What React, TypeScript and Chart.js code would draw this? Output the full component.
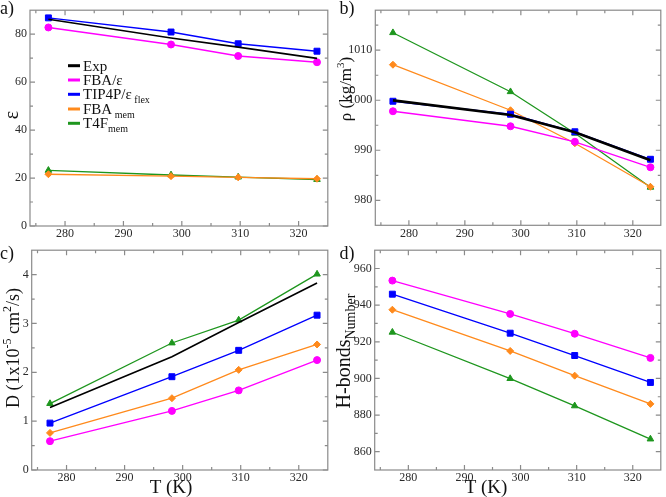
import React, { useEffect, useRef } from "react";
import { Chart, registerables } from "chart.js";

Chart.register(...registerables);

// Temperatures (K) at which every model was simulated
const temperatures = [277.15, 298.15, 309.65, 323.15];
const xMajorTicks = [280, 290, 300, 310, 320];
const xMinorTicks = [275, 285, 295, 305, 315];

// a) static dielectric constant
const epsExp = [86.2, 78.4, 74.6, 69.9];
const epsFBA = [82.8, 75.7, 70.9, 68.3];
const epsTIP4P = [86.8, 80.9, 76.0, 72.9];
const epsFBAmem = [21.6, 20.8, 20.3, 19.7];
const epsT4Fmem = [23.2, 21.3, 20.4, 19.4];
const epsTicks = [0, 20, 40, 60, 80];
const epsMinor = [10, 30, 50, 70];

// b) density (kg/m3)
const rhoExp = [999.97, 997.05, 993.6, 988.0];
const rhoFBA = [997.8, 994.8, 991.7, 986.6];
const rhoTIP4P = [999.8, 997.2, 993.7, 988.2];
const rhoFBAmem = [1007.1, 998.0, 991.4, 982.7];
const rhoT4Fmem = [1013.5, 1001.7, 993.4, 982.6];
const rhoTicks = [980, 990, 1000, 1010];
const rhoMinor = [985, 995, 1005, 1015];

// c) self-diffusion coefficient (1e-5 cm2/s)
const diffExp = [1.28, 2.32, 3.02, 3.83];
const diffFBA = [0.59, 1.21, 1.63, 2.25];
const diffTIP4P = [0.96, 1.91, 2.45, 3.17];
const diffFBAmem = [0.76, 1.47, 2.05, 2.57];
const diffT4Fmem = [1.36, 2.6, 3.07, 4.01];
const diffTicks = [0, 1, 2, 3, 4];
const diffMinor = [0.5, 1.5, 2.5, 3.5];

// d) number of hydrogen bonds
const hbFBA = [953.4, 935.2, 924.4, 911.2];
const hbTIP4P = [946.0, 924.7, 912.5, 897.8];
const hbFBAmem = [937.5, 915.0, 901.5, 886.1];
const hbT4Fmem = [925.2, 899.9, 885.0, 866.9];
const hbTicks = [860, 880, 900, 920, 940, 960];
const hbMinor = [870, 890, 910, 930, 950];

const FONT = "'Liberation Serif', serif";
const FRAME = "#8a8a8a";
const TEXT = "#2a2a2a";

Chart.defaults.font.family = FONT;

const C_EXP = "#000000";
const C_FBA = "#ff00ff";
const C_TIP = "#0000ff";
const C_FBAM = "#ff8a1c";
const C_T4F = "#1e961e";

type Part = { t: string; size: number; dy?: number };

type Series = {
  name: Part[];
  values: number[];
  color: string;
  marker: string | false;
  radius: number;
  width: number;
};

type Panel = {
  left: number;
  top: number;
  width: number;
  height: number;
  area: { l: number; r: number; t: number; b: number };
  yMin: number;
  yMax: number;
  yTicks: number[];
  yMinor: number[];
  series: Series[];
  tag: string;
  tagX: number;
  tagY: number;
  yTitle: Part[];
  yTitleX: number;
  yTitleY: number;
  xTitle?: { x: number; y: number };
  legend?: { x: number; ys: number[] };
};

const expName: Part[] = [{ t: "Exp", size: 15 }];
const fbaName: Part[] = [{ t: "FBA/ε", size: 15 }];
const tipName: Part[] = [
  { t: "TIP4P/ε", size: 15 },
  { t: " flex", size: 10, dy: 4 },
];
const fbaMemName: Part[] = [
  { t: "FBA", size: 15 },
  { t: " mem", size: 10, dy: 4 },
];
const t4fMemName: Part[] = [
  { t: "T4F", size: 15 },
  { t: "mem", size: 10, dy: 4 },
];

function richWidth(ctx: CanvasRenderingContext2D, parts: Part[]) {
  let w = 0;
  for (const p of parts) {
    ctx.font = `${p.size}px ${FONT}`;
    w += ctx.measureText(p.t).width;
  }
  return w;
}

function drawRich(
  ctx: CanvasRenderingContext2D,
  parts: Part[],
  x: number,
  baseline: number,
  align: "left" | "center"
) {
  const w = richWidth(ctx, parts);
  let cx = align === "center" ? x - w / 2 : x;
  ctx.textAlign = "left";
  ctx.textBaseline = "alphabetic";
  for (const p of parts) {
    ctx.font = `${p.size}px ${FONT}`;
    ctx.fillText(p.t, cx, baseline + (p.dy || 0));
    cx += ctx.measureText(p.t).width;
  }
}

function makeSeries(
  name: Part[],
  values: number[],
  color: string,
  marker: string | false,
  radius: number,
  width: number
): Series {
  return { name, values, color, marker, radius, width };
}

const panels: Panel[] = [
  {
    left: 0,
    top: 0,
    width: 333,
    height: 240,
    area: { l: 30, r: 328.5, t: 1, b: 226 },
    yMin: 0,
    yMax: 90,
    yTicks: epsTicks,
    yMinor: epsMinor,
    series: [
      makeSeries(expName, epsExp, C_EXP, false, 0, 1.6),
      makeSeries(fbaName, epsFBA, C_FBA, "circle", 3.5, 1.4),
      makeSeries(tipName, epsTIP4P, C_TIP, "rect", 4.2, 1.4),
      makeSeries(fbaMemName, epsFBAmem, C_FBAM, "rectRot", 3.5, 1.4),
      makeSeries(t4fMemName, epsT4Fmem, C_T4F, "triangle", 3.8, 1.4),
    ],
    tag: "a)",
    tagX: 0,
    tagY: 14,
    yTitle: [{ t: "ε", size: 20 }],
    yTitleX: 11,
    yTitleY: 115,
    legend: { x: 68, ys: [65.7, 80, 94.3, 109, 123.3] },
  },
  {
    left: 333,
    top: 0,
    width: 333,
    height: 240,
    area: { l: 42.3, r: 332, t: 1, b: 225.3 },
    yMin: 975,
    yMax: 1018,
    yTicks: rhoTicks,
    yMinor: rhoMinor,
    series: [
      makeSeries(expName, rhoExp, C_EXP, false, 0, 2.6),
      makeSeries(fbaName, rhoFBA, C_FBA, "circle", 3.5, 1.3),
      makeSeries(tipName, rhoTIP4P, C_TIP, "rect", 4.2, 1.3),
      makeSeries(fbaMemName, rhoFBAmem, C_FBAM, "rectRot", 3.5, 1.3),
      makeSeries(t4fMemName, rhoT4Fmem, C_T4F, "triangle", 3.8, 1.3),
    ],
    tag: "b)",
    tagX: 6.5,
    tagY: 14,
    yTitle: [
      { t: "ρ (kg/m", size: 17 },
      { t: "3", size: 11, dy: -7 },
      { t: ")", size: 17 },
    ],
    yTitleX: 12.5,
    yTitleY: 89,
  },
  {
    left: 0,
    top: 240,
    width: 333,
    height: 257,
    area: { l: 31.7, r: 329.3, t: 5, b: 230 },
    yMin: 0,
    yMax: 4.5,
    yTicks: diffTicks,
    yMinor: diffMinor,
    series: [
      makeSeries(expName, diffExp, C_EXP, false, 0, 1.6),
      makeSeries(fbaName, diffFBA, C_FBA, "circle", 3.5, 1.3),
      makeSeries(tipName, diffTIP4P, C_TIP, "rect", 4.2, 1.3),
      makeSeries(fbaMemName, diffFBAmem, C_FBAM, "rectRot", 3.5, 1.3),
      makeSeries(t4fMemName, diffT4Fmem, C_T4F, "triangle", 3.8, 1.3),
    ],
    tag: "c)",
    tagX: 0,
    tagY: 18.5,
    yTitle: [
      { t: "D (1x10", size: 18 },
      { t: "-5", size: 12, dy: -8 },
      { t: " cm", size: 18 },
      { t: "2", size: 12, dy: -8 },
      { t: "/s)", size: 18 },
    ],
    yTitleX: 13,
    yTitleY: 108,
    xTitle: { x: 171, y: 246.7 },
  },
  {
    left: 333,
    top: 240,
    width: 333,
    height: 257,
    area: { l: 41.7, r: 332, t: 4.7, b: 230 },
    yMin: 850,
    yMax: 970,
    yTicks: hbTicks,
    yMinor: hbMinor,
    series: [
      makeSeries(fbaName, hbFBA, C_FBA, "circle", 3.5, 1.3),
      makeSeries(tipName, hbTIP4P, C_TIP, "rect", 4.2, 1.3),
      makeSeries(fbaMemName, hbFBAmem, C_FBAM, "rectRot", 3.5, 1.3),
      makeSeries(t4fMemName, hbT4Fmem, C_T4F, "triangle", 3.8, 1.3),
    ],
    tag: "d)",
    tagX: 6.5,
    tagY: 18.5,
    yTitle: [
      { t: "H-bonds", size: 20 },
      { t: "Number", size: 14, dy: 5 },
    ],
    yTitleX: 10,
    yTitleY: 111,
    xTitle: { x: 153, y: 246.7 },
  },
];

function panelPlugin(p: Panel) {
  return {
    id: "panelDecor",
    beforeDatasetsDraw(chart: any) {
      const { ctx, chartArea: a, scales } = chart;
      const xs = scales.x;
      const ys = scales.y;
      ctx.save();
      ctx.strokeStyle = FRAME;
      ctx.lineWidth = 1.2;
      ctx.strokeRect(a.left, a.top, a.right - a.left, a.bottom - a.top);
      ctx.beginPath();
      const tick = (len: number, vals: number[], axis: "x" | "y") => {
        for (const v of vals) {
          if (axis === "x") {
            const px = xs.getPixelForValue(v);
            ctx.moveTo(px, a.bottom);
            ctx.lineTo(px, a.bottom - len);
            ctx.moveTo(px, a.top);
            ctx.lineTo(px, a.top + len);
          } else {
            const py = ys.getPixelForValue(v);
            ctx.moveTo(a.left, py);
            ctx.lineTo(a.left + len, py);
            ctx.moveTo(a.right, py);
            ctx.lineTo(a.right - len, py);
          }
        }
      };
      tick(5, xMajorTicks, "x");
      tick(3, xMinorTicks, "x");
      tick(5, p.yTicks, "y");
      tick(3, p.yMinor, "y");
      ctx.stroke();
      ctx.restore();
    },
    afterDraw(chart: any) {
      const { ctx } = chart;
      ctx.save();
      ctx.fillStyle = "#111";
      // panel tag
      drawRich(ctx, [{ t: p.tag, size: 18 }], p.tagX, p.tagY, "left");
      // y title, rotated
      ctx.save();
      ctx.translate(p.yTitleX, p.yTitleY);
      ctx.rotate(-Math.PI / 2);
      const mainSize = p.yTitle[0].size;
      drawRich(ctx, p.yTitle, 0, mainSize * 0.33, "center");
      ctx.restore();
      // x title
      if (p.xTitle) {
        drawRich(ctx, [{ t: "T (K)", size: 19 }], p.xTitle.x, p.xTitle.y + 6.5, "center");
      }
      // legend
      if (p.legend) {
        const lg = p.legend;
        p.series.forEach((s, i) => {
          const y = lg.ys[i];
          ctx.strokeStyle = s.color;
          ctx.lineWidth = 3;
          ctx.beginPath();
          ctx.moveTo(lg.x, y);
          ctx.lineTo(lg.x + 12, y);
          ctx.stroke();
          ctx.fillStyle = "#111";
          drawRich(ctx, s.name, lg.x + 15, y + 5, "left");
        });
      }
      ctx.restore();
    },
  };
}

function PanelChart({ p }: { p: Panel }) {
  const ref = useRef<HTMLCanvasElement | null>(null);
  useEffect(() => {
    if (!ref.current) return;
    const datasets = p.series.map((s) => ({
      label: s.name.map((q) => q.t).join(""),
      data: temperatures.map((t, i) => ({ x: t, y: s.values[i] })),
      borderColor: s.color,
      backgroundColor: s.color,
      borderWidth: s.width,
      pointStyle: s.marker === false ? "circle" : s.marker,
      pointRadius: s.marker === false ? 0 : s.radius,
      pointBackgroundColor: s.color,
      pointBorderColor: s.color,
      pointBorderWidth: 1,
      tension: 0,
    }));
    const tickFont = { family: FONT, size: 12 };
    const plain = (v: number | string) => String(v);
    const chart = new Chart(ref.current, {
      type: "line",
      data: { datasets },
      plugins: [panelPlugin(p)],
      options: {
        animation: false,
        responsive: false,
        maintainAspectRatio: false,
        devicePixelRatio: 1,
        events: [],
        layout: {
          padding: { left: 0, top: p.area.t, right: p.width - p.area.r, bottom: 0 },
        },
        plugins: { legend: { display: false }, tooltip: { enabled: false } },
        scales: {
          x: {
            type: "linear",
            min: 274,
            max: 325,
            grid: { display: false, drawTicks: false },
            border: { display: false },
            ticks: {
              autoSkip: false,
              padding: 1,
              color: TEXT,
              font: tickFont,
              callback: plain,
            },
            afterBuildTicks: (scale: any) => {
              scale.ticks = xMajorTicks.map((v) => ({ value: v }));
            },
            afterFit: (scale: any) => {
              scale.height = p.height - p.area.b;
            },
          },
          y: {
            type: "linear",
            min: p.yMin,
            max: p.yMax,
            grid: { display: false, drawTicks: false },
            border: { display: false },
            ticks: {
              autoSkip: false,
              padding: 3,
              color: TEXT,
              font: tickFont,
              callback: plain,
            },
            afterBuildTicks: (scale: any) => {
              scale.ticks = p.yTicks.map((v) => ({ value: v }));
            },
            afterFit: (scale: any) => {
              scale.width = p.area.l;
            },
          },
        },
      } as any,
    });
    return () => chart.destroy();
  }, [p]);
  return (
    <canvas
      ref={ref}
      width={p.width}
      height={p.height}
      style={{
        position: "absolute",
        left: p.left,
        top: p.top,
        width: p.width,
        height: p.height,
      }}
    />
  );
}

export default function App() {
  return (
    <div
      style={{
        position: "fixed",
        left: 0,
        top: 0,
        width: 666,
        height: 497,
        background: "#ffffff",
      }}
    >
      {panels.map((p, i) => (
        <PanelChart key={i} p={p} />
      ))}
    </div>
  );
}
